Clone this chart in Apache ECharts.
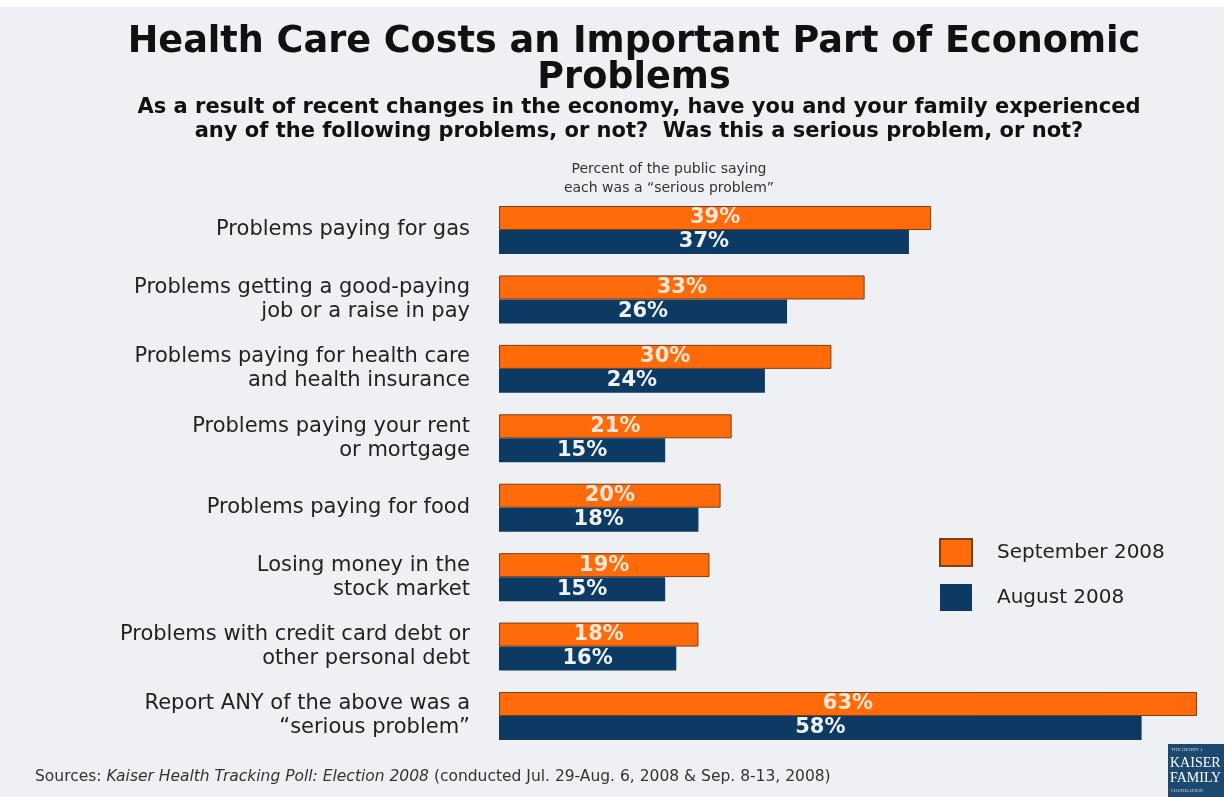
<!DOCTYPE html>
<html>
<head>
<meta charset="utf-8">
<script src="https://cdn.jsdelivr.net/npm/echarts@6/dist/echarts.min.js"></script>
<style>
  html, body { margin: 0; padding: 0; background: #eef0f4; }
  #chart { width: 1224px; height: 797px; }
</style>
</head>
<body>
<div id="chart"></div>
<script>
// Survey items (top to bottom)
const categories = [
  'Problems paying for gas',
  'Problems getting a good-paying\njob or a raise in pay',
  'Problems paying for health care\nand health insurance',
  'Problems paying your rent\nor mortgage',
  'Problems paying for food',
  'Losing money in the\nstock market',
  'Problems with credit card debt or\nother personal debt',
  'Report ANY of the above was a\n\u201cserious problem\u201d'
];
// Percent saying each was a "serious problem"
const september2008 = [39, 33, 30, 21, 20, 19, 18, 63];
const august2008 = [37, 26, 24, 15, 18, 15, 16, 58];
const seriesNames = ['September 2008', 'August 2008'];

const ORANGE = '#ff6a0a';
const NAVY = '#0c3a62';
const FONT = 'DejaVu Sans, Verdana, sans-serif';

const chart = echarts.init(document.getElementById('chart'));

const labelStyle = (color) => ({
  show: true,
  position: 'inside',
  formatter: '{c}%',
  color: color,
  fontFamily: FONT,
  fontWeight: 'bold',
  fontSize: 21
});

chart.setOption({
  backgroundColor: '#eef0f4',
  animation: false,
  title: [
    {
      text: 'Health Care Costs an Important Part of Economic\nProblems',
      left: 629,
      textAlign: 'center',
      top: 19,
      textStyle: { fontFamily: FONT, fontWeight: 'bold', fontSize: 36.6, lineHeight: 36, color: '#111' }
    },
    {
      text: 'As a result of recent changes in the economy, have you and your family experienced\nany of the following problems, or not?  Was this a serious problem, or not?',
      left: 634,
      textAlign: 'center',
      top: 91,
      textStyle: { fontFamily: FONT, fontWeight: 'bold', fontSize: 21, lineHeight: 24, color: '#111' }
    },
    {
      text: 'Percent of the public saying\neach was a \u201cserious problem\u201d',
      left: 664,
      textAlign: 'center',
      top: 155,
      textStyle: { fontFamily: FONT, fontWeight: 'normal', fontSize: 14, lineHeight: 19, color: '#333' }
    }
  ],
  legend: {
    data: seriesNames,
    orient: 'vertical',
    left: 934,
    top: 533,
    itemWidth: 32,
    itemHeight: 27,
    itemGap: 17,
    icon: 'rect',
    textStyle: { fontFamily: FONT, fontSize: 20, color: '#222', padding: [0, 0, 0, 20] }
  },
  grid: { left: 499, right: 27, top: 195.3, bottom: 46.3, containLabel: false },
  xAxis: {
    type: 'value',
    min: 0,
    max: 63,
    show: false
  },
  yAxis: {
    type: 'category',
    data: categories,
    inverse: true,
    axisLine: { show: false },
    axisTick: { show: false },
    axisLabel: {
      margin: 29,
      fontFamily: FONT,
      fontSize: 21,
      lineHeight: 24,
      color: '#222',
      align: 'right'
    }
  },
  series: [
    {
      name: seriesNames[0],
      type: 'bar',
      data: september2008,
      barWidth: 24,
      barGap: '0%',
      itemStyle: { color: ORANGE, borderColor: '#7d3f14', borderWidth: 1 },
      label: labelStyle('#fbe7d6')
    },
    {
      name: seriesNames[1],
      type: 'bar',
      data: august2008,
      barWidth: 24,
      barGap: '0%',
      itemStyle: { color: NAVY },
      label: labelStyle('#eef2f7')
    }
  ],
  graphic: [
    { type: 'rect', left: 0, top: 0, shape: { width: 1224, height: 7 }, style: { fill: '#ffffff' }, silent: true },
    {
      type: 'text',
      left: 35,
      top: 769,
      style: {
        text: '{n|Sources: }{i|Kaiser Health Tracking Poll: Election 2008}{n| (conducted Jul. 29-Aug. 6, 2008 & Sep. 8-13, 2008)}',
        rich: {
          n: { fontFamily: FONT, fontSize: 15.5, fill: '#333' },
          i: { fontFamily: FONT, fontSize: 15.5, fontStyle: 'italic', fill: '#333' }
        }
      }
    },
    {
      type: 'group',
      left: 1168,
      top: 744,
      children: [
        { type: 'rect', shape: { x: 0, y: 0, width: 56, height: 53 }, style: { fill: '#1d4870' } },
        { type: 'text', x: 3, y: 3, style: { text: 'THE HENRY J.', fontSize: 5, fill: '#c8d4e0', fontFamily: 'Liberation Serif, serif' } },
        { type: 'text', x: 2, y: 12, style: { text: 'KAISER', fontSize: 14, fill: '#ffffff', fontFamily: 'Liberation Serif, serif' } },
        { type: 'text', x: 2, y: 27, style: { text: 'FAMILY', fontSize: 14, fill: '#ffffff', fontFamily: 'Liberation Serif, serif' } },
        { type: 'text', x: 3, y: 44, style: { text: 'FOUNDATION', fontSize: 5, fill: '#c8d4e0', fontFamily: 'Liberation Serif, serif' } }
      ]
    }
  ]
});
</script>
</body>
</html>
